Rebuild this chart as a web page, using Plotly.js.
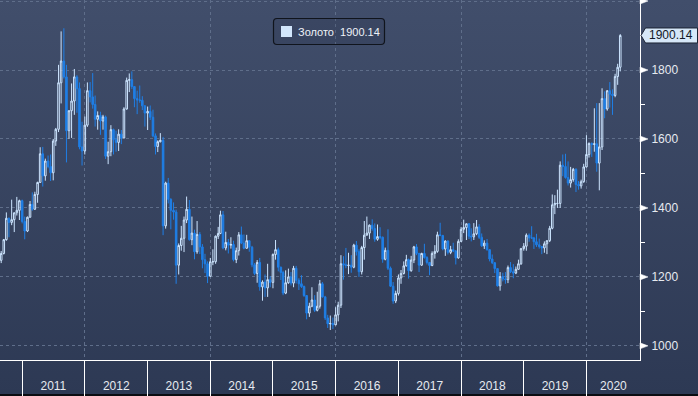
<!DOCTYPE html>
<html><head><meta charset="utf-8">
<script src="https://cdn.plot.ly/plotly-3.0.1.min.js"></script>
<style>
html,body{margin:0;padding:0;}
body{width:698px;height:396px;overflow:hidden;background:linear-gradient(to bottom,#414e6b 0px,#2d3954 394px,#0b0d12 394px,#0b0d12 396px);}
#chart{width:698px;height:396px;}
</style></head><body><div id="chart"></div>
<script>
const dates=[
"2010-09-01","2010-09-16","2010-10-01","2010-10-16","2010-11-01","2010-11-16","2010-12-01","2010-12-16",
"2011-01-01","2011-01-16","2011-02-01","2011-02-16","2011-03-01","2011-03-16","2011-04-01","2011-04-16","2011-05-01","2011-05-16","2011-06-01","2011-06-16","2011-07-01","2011-07-16","2011-08-01","2011-08-16","2011-09-01","2011-09-16","2011-10-01","2011-10-16","2011-11-01","2011-11-16","2011-12-01","2011-12-16",
"2012-01-01","2012-01-16","2012-02-01","2012-02-16","2012-03-01","2012-03-16","2012-04-01","2012-04-16","2012-05-01","2012-05-16","2012-06-01","2012-06-16","2012-07-01","2012-07-16","2012-08-01","2012-08-16","2012-09-01","2012-09-16","2012-10-01","2012-10-16","2012-11-01","2012-11-16","2012-12-01","2012-12-16",
"2013-01-01","2013-01-16","2013-02-01","2013-02-16","2013-03-01","2013-03-16","2013-04-01","2013-04-16","2013-05-01","2013-05-16","2013-06-01","2013-06-16","2013-07-01","2013-07-16","2013-08-01","2013-08-16","2013-09-01","2013-09-16","2013-10-01","2013-10-16","2013-11-01","2013-11-16","2013-12-01","2013-12-16",
"2014-01-01","2014-01-16","2014-02-01","2014-02-16","2014-03-01","2014-03-16","2014-04-01","2014-04-16","2014-05-01","2014-05-16","2014-06-01","2014-06-16","2014-07-01","2014-07-16","2014-08-01","2014-08-16","2014-09-01","2014-09-16","2014-10-01","2014-10-16","2014-11-01","2014-11-16","2014-12-01","2014-12-16",
"2015-01-01","2015-01-16","2015-02-01","2015-02-16","2015-03-01","2015-03-16","2015-04-01","2015-04-16","2015-05-01","2015-05-16","2015-06-01","2015-06-16","2015-07-01","2015-07-16","2015-08-01","2015-08-16","2015-09-01","2015-09-16","2015-10-01","2015-10-16","2015-11-01","2015-11-16","2015-12-01","2015-12-16",
"2016-01-01","2016-01-16","2016-02-01","2016-02-16","2016-03-01","2016-03-16","2016-04-01","2016-04-16","2016-05-01","2016-05-16","2016-06-01","2016-06-16","2016-07-01","2016-07-16","2016-08-01","2016-08-16","2016-09-01","2016-09-16","2016-10-01","2016-10-16","2016-11-01","2016-11-16","2016-12-01","2016-12-16",
"2017-01-01","2017-01-16","2017-02-01","2017-02-16","2017-03-01","2017-03-16","2017-04-01","2017-04-16","2017-05-01","2017-05-16","2017-06-01","2017-06-16","2017-07-01","2017-07-16","2017-08-01","2017-08-16","2017-09-01","2017-09-16","2017-10-01","2017-10-16","2017-11-01","2017-11-16","2017-12-01","2017-12-16",
"2018-01-01","2018-01-16","2018-02-01","2018-02-16","2018-03-01","2018-03-16","2018-04-01","2018-04-16","2018-05-01","2018-05-16","2018-06-01","2018-06-16","2018-07-01","2018-07-16","2018-08-01","2018-08-16","2018-09-01","2018-09-16","2018-10-01","2018-10-16","2018-11-01","2018-11-16","2018-12-01","2018-12-16",
"2019-01-01","2019-01-16","2019-02-01","2019-02-16","2019-03-01","2019-03-16","2019-04-01","2019-04-16","2019-05-01","2019-05-16","2019-06-01","2019-06-16","2019-07-01","2019-07-16","2019-08-01","2019-08-16","2019-09-01","2019-09-16","2019-10-01","2019-10-16","2019-11-01","2019-11-16","2019-12-01","2019-12-16",
"2020-01-01","2020-01-16","2020-02-01","2020-02-16","2020-03-01","2020-03-16","2020-04-01","2020-04-16","2020-05-01","2020-05-16","2020-06-01","2020-06-16","2020-07-01","2020-07-16"
];
const openP=[
1248,1268,1308,1370,1358,1366,1386,1393,
1421,1361,1333,1373,1410,1396,1439,1474,1557,1493,1536,1520,1502,1594,1628,1763,1826,1780,1624,1682,1710,1780,1746,1577,
1565,1640,1740,1722,1700,1657,1668,1652,1664,1550,1563,1627,1598,1590,1614,1603,1687,1770,1772,1752,1717,1713,1712,1696,
1675,1680,1663,1609,1578,1592,1596,1348,1472,1425,1393,1388,1234,1291,1312,1365,1396,1308,1327,1273,1323,1287,1250,1238,
1202,1244,1244,1318,1326,1380,1284,1300,1292,1294,1250,1276,1322,1298,1283,1305,1286,1235,1210,1242,1171,1185,1168,1192,
1184,1265,1279,1228,1213,1153,1183,1200,1182,1225,1190,1180,1172,1146,1095,1115,1133,1103,1115,1180,1142,1081,1064,1065,
1061,1090,1118,1238,1235,1233,1234,1228,1292,1273,1215,1285,1321,1327,1350,1340,1309,1317,1315,1251,1277,1225,1173,1130,
1152,1197,1210,1232,1250,1218,1249,1287,1268,1234,1268,1256,1242,1233,1268,1274,1322,1320,1281,1304,1271,1279,1275,1255,
1303,1338,1343,1354,1318,1316,1325,1345,1315,1290,1298,1279,1252,1241,1224,1174,1201,1194,1192,1227,1215,1211,1222,1238,
1282,1289,1321,1313,1313,1302,1293,1288,1284,1296,1305,1341,1409,1413,1413,1524,1520,1488,1472,1482,1512,1468,1464,1476,
1519,1555,1587,1584,1586,1530,1577,1717,1687,1740,1730,1726,1781,1808
];
const highP=[
1275,1310,1387,1372,1424,1386,1432,1424,
1424,1375,1375,1420,1445,1447,1476,1576,1577,1543,1552,1555,1600,1632,1815,1912,1921,1815,1683,1761,1803,1785,1764,1650,
1665,1764,1765,1791,1726,1680,1679,1670,1668,1592,1640,1630,1624,1628,1626,1692,1778,1790,1796,1753,1740,1755,1724,1698,
1694,1697,1685,1616,1596,1617,1606,1476,1487,1428,1416,1395,1297,1348,1375,1433,1423,1375,1337,1362,1330,1295,1267,1245,
1255,1280,1320,1345,1392,1391,1331,1310,1315,1305,1285,1330,1346,1323,1322,1306,1290,1240,1249,1255,1190,1207,1238,1202,
1268,1307,1285,1230,1218,1219,1224,1214,1232,1232,1196,1205,1175,1147,1125,1170,1147,1157,1191,1185,1145,1090,1088,1082,
1112,1128,1263,1260,1284,1270,1263,1296,1304,1280,1290,1362,1375,1352,1367,1355,1352,1344,1317,1285,1338,1230,1185,1160,
1207,1220,1245,1264,1253,1261,1290,1295,1270,1270,1296,1260,1243,1274,1292,1331,1357,1322,1306,1306,1290,1299,1278,1309,
1345,1366,1355,1356,1341,1356,1365,1353,1326,1306,1310,1281,1265,1243,1225,1214,1212,1214,1233,1243,1237,1230,1250,1284,
1298,1326,1326,1347,1316,1325,1311,1290,1303,1306,1348,1439,1437,1453,1535,1555,1557,1535,1519,1516,1515,1478,1482,1528,
1611,1590,1590,1689,1704,1704,1747,1738,1741,1765,1744,1789,1818,1904
];
const lowP=[
1240,1265,1305,1315,1350,1330,1378,1365,
1355,1309,1330,1372,1392,1395,1415,1473,1462,1479,1515,1478,1480,1580,1620,1703,1775,1532,1600,1603,1670,1676,1570,1523,
1555,1635,1706,1688,1636,1627,1612,1627,1542,1527,1550,1555,1563,1565,1585,1602,1685,1736,1745,1692,1672,1705,1684,1636,
1626,1655,1605,1555,1562,1590,1321,1340,1413,1338,1366,1180,1207,1276,1272,1356,1305,1292,1251,1267,1266,1225,1211,1182,
1200,1234,1238,1310,1324,1280,1277,1268,1282,1245,1240,1262,1295,1280,1282,1273,1228,1205,1183,1160,1131,1142,1142,1170,
1167,1250,1216,1191,1147,1150,1180,1175,1170,1181,1162,1168,1142,1077,1084,1112,1098,1100,1108,1140,1075,1052,1046,1049,
1060,1071,1110,1192,1225,1208,1212,1225,1262,1200,1207,1250,1320,1310,1334,1302,1305,1309,1241,1248,1220,1171,1122,1124,
1146,1180,1207,1230,1195,1215,1240,1263,1214,1232,1253,1236,1205,1231,1253,1270,1318,1277,1261,1265,1266,1272,1236,1253,
1301,1327,1307,1310,1303,1307,1321,1310,1287,1281,1276,1245,1237,1211,1172,1160,1187,1180,1182,1211,1196,1208,1221,1235,
1276,1276,1302,1311,1281,1287,1282,1266,1270,1266,1301,1338,1382,1400,1400,1492,1485,1465,1459,1476,1446,1453,1456,1473,
1517,1546,1548,1563,1505,1451,1568,1660,1682,1691,1670,1721,1757,1796
];
const closeP=[
1268,1308,1370,1358,1366,1386,1393,1421,
1361,1333,1373,1410,1396,1439,1474,1557,1493,1536,1520,1502,1594,1628,1763,1826,1780,1624,1682,1710,1780,1746,1577,1565,
1640,1740,1722,1700,1657,1668,1652,1664,1550,1563,1627,1598,1590,1614,1603,1687,1770,1772,1752,1717,1713,1712,1696,1675,
1680,1663,1609,1578,1592,1596,1348,1472,1425,1393,1388,1234,1291,1312,1365,1396,1308,1327,1273,1323,1287,1250,1238,1202,
1244,1244,1318,1326,1380,1284,1300,1292,1294,1250,1276,1322,1298,1283,1305,1286,1235,1210,1242,1171,1185,1168,1192,1184,
1265,1279,1228,1213,1153,1183,1200,1182,1225,1190,1180,1172,1146,1095,1115,1133,1103,1115,1180,1142,1081,1064,1065,1061,
1090,1118,1238,1235,1233,1234,1228,1292,1273,1215,1285,1321,1327,1350,1340,1309,1317,1315,1251,1277,1225,1173,1130,1152,
1197,1210,1232,1250,1218,1249,1287,1268,1234,1268,1256,1242,1233,1268,1274,1322,1320,1281,1304,1271,1279,1275,1255,1303,
1338,1343,1354,1318,1316,1325,1345,1315,1290,1298,1279,1252,1241,1224,1174,1201,1194,1192,1227,1215,1211,1222,1238,1282,
1289,1321,1313,1313,1302,1293,1288,1284,1296,1305,1341,1409,1413,1413,1524,1520,1488,1472,1482,1512,1468,1464,1476,1519,
1555,1587,1584,1586,1530,1577,1717,1687,1740,1730,1726,1781,1808,1900.14
];
const seriesName="Золото";
const lastValue=1900.14;
const lastLabel="1900.14";
const yTickVals=[1000,1200,1400,1600,1800,2000];
const yTickText=["1000","1200","1400","1600","1800",""];
const yMinorVals=[1100,1300,1500,1700,1900];
const yearStarts=["2011-01-01","2012-01-01","2013-01-01","2014-01-01","2015-01-01","2016-01-01","2017-01-01","2018-01-01","2019-01-01","2020-01-01"];
const yearLabelPos=["2011-07-02","2012-07-02","2013-07-02","2014-07-02","2015-07-02","2016-07-02","2017-07-02","2018-07-02","2019-07-02","2020-06-06"];
const yearLabels=["2011","2012","2013","2014","2015","2016","2017","2018","2019","2020"];

const xRange=["2010-08-25","2020-11-08"];
const yRange=[959,2003];
const FONT="Liberation Sans, Arial, sans-serif";
const TXT="#e6eaf0";
const GRID="#5f6e8a";

// plot area size in px (for decorations drawn in paper units)
const PW=640, PH=360;
const px=v=>v/PW;                 // px -> paper x
const py=v=>1-v/PH;               // px (from top) -> paper y
const du=(yRange[1]-yRange[0])/PH; // data units per px

const shapes=[];
// white tick flags on the price axis
yTickVals.forEach(v=>{
  shapes.push({type:"path",xref:"paper",yref:"y",layer:"above",
    path:`M ${px(640)} ${v-3*du} L ${px(648)} ${v} L ${px(640)} ${v+3*du} Z`,
    fillcolor:"#ffffff",line:{color:"#ffffff",width:0.5}});
});
// last price callout (pentagon pointing at the axis)
shapes.push({type:"path",xref:"paper",yref:"y",layer:"above",
  path:`M ${px(641)} ${lastValue} L ${px(645.5)} ${lastValue+7.5*du} L ${px(697.5)} ${lastValue+7.5*du} L ${px(697.5)} ${lastValue-7.5*du} L ${px(645.5)} ${lastValue-7.5*du} Z`,
  fillcolor:"#d6e7f8",line:{color:"#1b2233",width:1}});
// legend box with rounded corners
(function(){
  const x0=273.5,x1=384.5,y0=18.5,y1=44.5,r=3.5;
  const p=`M ${px(x0+r)} ${py(y0)} L ${px(x1-r)} ${py(y0)} Q ${px(x1)} ${py(y0)} ${px(x1)} ${py(y0+r)} `+
          `L ${px(x1)} ${py(y1-r)} Q ${px(x1)} ${py(y1)} ${px(x1-r)} ${py(y1)} `+
          `L ${px(x0+r)} ${py(y1)} Q ${px(x0)} ${py(y1)} ${px(x0)} ${py(y1-r)} `+
          `L ${px(x0)} ${py(y0+r)} Q ${px(x0)} ${py(y0)} ${px(x0+r)} ${py(y0)} Z`;
  shapes.push({type:"path",xref:"paper",yref:"paper",layer:"above",path:p,
    fillcolor:"rgba(20,26,40,0.12)",line:{color:"#10141c",width:1.2}});
  shapes.push({type:"rect",xref:"paper",yref:"paper",layer:"above",
    x0:px(281),x1:px(292),y0:py(37),y1:py(26),fillcolor:"#d2e6fb",line:{width:0}});
})();

const traces=[
 {type:"candlestick",x:dates,open:openP,high:highP,low:lowP,close:closeP,
  increasing:{line:{color:"#cde5ff",width:1},fillcolor:"rgba(0,0,0,0)"},
  decreasing:{line:{color:"#1f7fe6",width:1},fillcolor:"#1f7fe6"},
  whiskerwidth:0,hoverinfo:"skip",showlegend:false,xaxis:"x",yaxis:"y"},
 {type:"scatter",x:[],y:[],xaxis:"x2",yaxis:"y",showlegend:false},
 {type:"scatter",x:[],y:[],xaxis:"x3",yaxis:"y",showlegend:false}
];

const layout={
 width:698,height:396,
 paper_bgcolor:"rgba(0,0,0,0)",plot_bgcolor:"rgba(0,0,0,0)",
 margin:{l:0,r:58,t:0,b:36},
 showlegend:false,hovermode:false,boxgap:0.0,
 font:{family:FONT,size:12,color:TXT},
 xaxis:{type:"date",range:xRange,domain:[0,1],anchor:"y",
  showgrid:true,gridcolor:GRID,griddash:"dot",gridwidth:1,
  tickmode:"linear",tick0:"2012-01-01",dtick:"M24",
  showticklabels:false,ticks:"",showline:true,linecolor:"#ffffff",linewidth:1,
  zeroline:false,rangeslider:{visible:false},fixedrange:true},
 xaxis2:{type:"date",range:xRange,overlaying:"x",anchor:"y",
  tickmode:"array",tickvals:yearStarts,ticks:"outside",ticklen:36,tickcolor:"#ffffff",tickwidth:1,
  showticklabels:false,showgrid:false,showline:false,zeroline:false},
 xaxis3:{type:"date",range:xRange,overlaying:"x",anchor:"y",
  tickmode:"array",tickvals:yearLabelPos,ticktext:yearLabels,ticks:"outside",ticklen:15,tickcolor:"rgba(0,0,0,0)",
  tickfont:{family:FONT,size:12,color:TXT},showgrid:false,showline:false,zeroline:false},
 yaxis:{range:yRange,side:"right",anchor:"x",
  tickmode:"array",tickvals:yTickVals,ticktext:yTickText,
  ticks:"outside",ticklen:8,tickcolor:"rgba(0,0,0,0)",tickwidth:1,
  tickfont:{family:FONT,size:12,color:TXT},
  showgrid:true,gridcolor:GRID,griddash:"dot",gridwidth:1,
  showline:true,linecolor:"#ffffff",linewidth:1,zeroline:false,
  minor:{tickmode:"array",tickvals:yMinorVals,ticks:"outside",ticklen:4,tickcolor:"#ffffff",showgrid:false},
  fixedrange:true},
 shapes:shapes,
 annotations:[
  {xref:"paper",yref:"paper",x:px(296),y:py(31.5),xanchor:"left",yanchor:"middle",showarrow:false,
   text:seriesName+'\u00a0\u00a0'+lastLabel,
   font:{family:FONT,size:11,color:"#eef2f8"}},
  {xref:"paper",yref:"y",x:px(671),y:lastValue,xanchor:"center",yanchor:"middle",showarrow:false,
   text:lastLabel,font:{family:FONT,size:12,color:"#111826"}}
 ]
};
Plotly.newPlot("chart",traces,layout,{staticPlot:true,displayModeBar:false});
</script></body></html>
